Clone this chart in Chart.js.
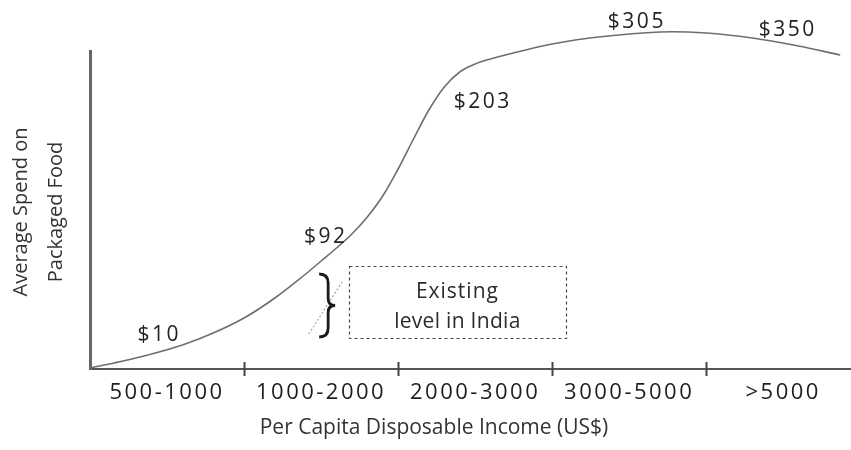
<!DOCTYPE html>
<html>
<head>
<meta charset="utf-8">
<script src="https://cdn.jsdelivr.net/npm/chart.js@4/dist/chart.umd.min.js"></script>
<style>
  html, body { margin: 0; padding: 0; background: #fff; }
  #wrap { width: 851px; height: 450px; position: relative; }
</style>
</head>
<body>
<div id="wrap"><canvas id="c"></canvas></div>
<script>
// Income bands along the x axis
const incomeBands = ['500-1000', '1000-2000', '2000-3000', '3000-5000', '>5000'];
// Average spend stated for each band
const spendLabels = ['$10', '$92', '$203', '$305', '$350'];
// Shape of the adoption curve (x in band units, y in relative height units)
const curveX = [0, 0.2, 0.4, 0.6, 0.8, 1.0, 1.2, 1.4, 1.5, 1.6, 1.7, 1.8, 1.9, 2.0, 2.1, 2.2, 2.3, 2.4, 2.5, 2.6, 2.8, 3.0, 3.3, 3.7, 4.0, 4.3, 4.6, 4.87];
const curveY = [1, 7.5, 15, 24, 36, 51, 71, 95, 108, 121, 135, 152, 173, 200, 230, 259, 282, 297, 305, 310, 318, 325, 332, 337, 336, 331, 323, 314];
const axisTitleX = 'Per Capita Disposable Income (US$)';
const axisTitleY = ['Average Spend on', 'Packaged Food'];
const noteLines = ['Existing', 'level in India'];

const FONT = '"Open Sans", "Noto Sans", sans-serif';

const decorations = {
  id: 'decorations',
  beforeDraw(chart) {
    chart.ctx.letterSpacing = '2.5px';
  },
  afterDraw(chart) {
    const { ctx, scales: { x, y } } = chart;
    const base = y.getPixelForValue(0);
    ctx.save();

    // band boundary marks crossing the x axis
    ctx.strokeStyle = '#444';
    ctx.lineWidth = 2;
    for (let b = 1; b < incomeBands.length; b++) {
      const px = Math.round(x.getPixelForValue(b)) + 0.5;
      ctx.beginPath();
      ctx.moveTo(px, base - 7);
      ctx.lineTo(px, base + 7);
      ctx.stroke();
    }

    // spend labels beside the curve
    const labelSpots = [[0.45, 34], [1.53, 132], [2.55, 267], [3.55, 347], [4.53, 339]];
    ctx.fillStyle = '#222';
    ctx.font = '21px ' + FONT;
    ctx.letterSpacing = '2.5px';
    ctx.textAlign = 'center';
    ctx.textBaseline = 'middle';
    spendLabels.forEach((t, i) => {
      const [vx, vy] = labelSpots[i];
      ctx.fillText(t, x.getPixelForValue(vx), y.getPixelForValue(vy));
    });

    // dashed note box
    const bx0 = x.getPixelForValue(1.68), bx1 = x.getPixelForValue(3.09);
    const by0 = y.getPixelForValue(103), by1 = y.getPixelForValue(31);
    ctx.strokeStyle = '#3a4a66';
    ctx.lineWidth = 1.2;
    ctx.setLineDash([3, 3]);
    ctx.strokeRect(Math.round(bx0) + 0.5, Math.round(by0) + 0.5, Math.round(bx1 - bx0), Math.round(by1 - by0));

    // faint dotted guide next to the brace
    ctx.strokeStyle = '#9aa8b8';
    ctx.lineWidth = 1.2;
    ctx.setLineDash([2, 2]);
    ctx.beginPath();
    ctx.moveTo(x.getPixelForValue(1.42), y.getPixelForValue(35));
    ctx.lineTo(x.getPixelForValue(1.64), y.getPixelForValue(88));
    ctx.stroke();
    ctx.setLineDash([]);

    // curly brace
    const cx = x.getPixelForValue(1.52);
    const top = y.getPixelForValue(95), bot = y.getPixelForValue(32);
    const mid = (top + bot) / 2;
    ctx.strokeStyle = '#1a1a1a';
    ctx.lineWidth = 2.8;
    ctx.beginPath();
    ctx.moveTo(cx - 5, top);
    ctx.quadraticCurveTo(cx + 4, top, cx + 4, top + 9);
    ctx.lineTo(cx + 4, mid - 7);
    ctx.quadraticCurveTo(cx + 4, mid, cx + 11, mid);
    ctx.quadraticCurveTo(cx + 4, mid, cx + 4, mid + 7);
    ctx.lineTo(cx + 4, bot - 9);
    ctx.quadraticCurveTo(cx + 4, bot, cx - 5, bot);
    ctx.stroke();

    // note text
    ctx.fillStyle = '#2b2b2b';
    ctx.font = '21px ' + FONT;
    ctx.letterSpacing = '1px';
    ctx.textBaseline = 'alphabetic';
    const ncx = (bx0 + bx1) / 2;
    ctx.fillText(noteLines[0], ncx, by0 + 32);
    ctx.letterSpacing = '0.3px';
    ctx.fillText(noteLines[1], ncx, by0 + 62);

    // axis titles
    ctx.letterSpacing = '0px';
    ctx.fillStyle = '#333';
    ctx.font = '21px ' + FONT;
    ctx.fillText(axisTitleX, (x.left + 780) / 2 - 1, 434);
    ctx.font = '20px ' + FONT;
    const yc = (y.top + y.bottom) / 2 + 2;
    [27, 62].forEach((bx, i) => {
      ctx.save();
      ctx.translate(bx, yc);
      ctx.rotate(-Math.PI / 2);
      ctx.fillText(axisTitleY[i], 0, 0);
      ctx.restore();
    });

    ctx.restore();
  }
};

new Chart(document.getElementById('c'), {
  type: 'line',
  data: {
    datasets: [{
      data: curveX.map((v, i) => ({ x: v, y: curveY[i] })),
      borderColor: '#6e6e6e',
      borderWidth: 1.6,
      pointRadius: 0,
      tension: 0.35,
      fill: false,
      clip: false
    }]
  },
  options: {
    responsive: true,
    maintainAspectRatio: false,
    animation: false,
    events: [],
    layout: { padding: { top: 51, right: 0, left: 0, bottom: 0 } },
    plugins: { legend: { display: false }, tooltip: { enabled: false } },
    scales: {
      x: {
        type: 'linear',
        min: 0,
        max: 4.94,
        grid: { display: false, drawTicks: false },
        border: { color: '#555', width: 2 },
        ticks: {
          padding: 11,
          autoSkip: false,
          maxRotation: 0,
          color: '#1e1e1e',
          font: { family: FONT, size: 22 },
          callback: (v, i) => incomeBands[i]
        },
        afterBuildTicks: s => { s.ticks = incomeBands.map((_, i) => ({ value: i + 0.5 })); },
        afterFit: s => { s.height = 81; }
      },
      y: {
        min: 0,
        max: 318,
        grid: { display: false, drawTicks: false },
        border: { color: '#666', width: 3 },
        ticks: { display: false },
        afterFit: s => { s.width = 90; }
      }
    }
  },
  plugins: [decorations]
});
</script>
</body>
</html>
